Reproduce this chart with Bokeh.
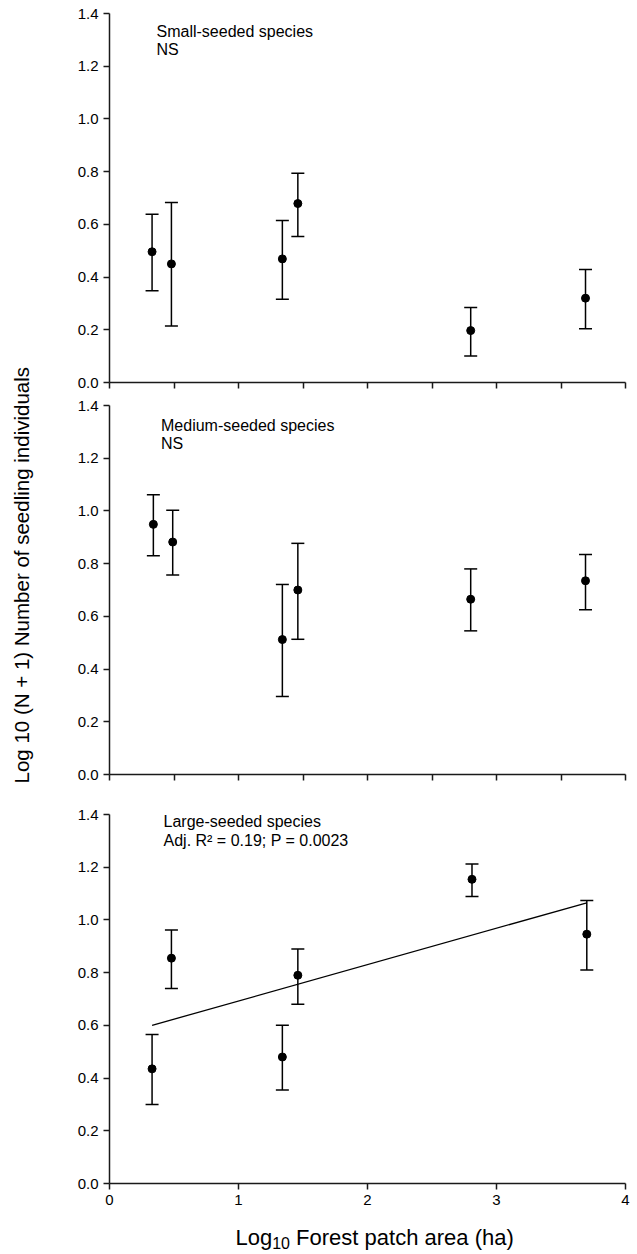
import math
from bokeh.plotting import figure
from bokeh.layouts import row, column
from bokeh.models import (Range1d, FixedTicker, PrintfTickFormatter, CustomJSTickFormatter,
                          Whisker, TeeHead, ColumnDataSource)
from bokeh.core.properties import value
from bokeh.embed import file_html
from bokeh.resources import INLINE

# ---------------- data ----------------
x_small = [0.33, 0.48, 1.34, 1.46, 2.80, 3.69]
y_small = [0.496, 0.450, 0.469, 0.679, 0.197, 0.320]
up_small = [0.638, 0.683, 0.615, 0.794, 0.285, 0.429]
lo_small = [0.348, 0.214, 0.316, 0.554, 0.101, 0.204]

x_medium = [0.34, 0.49, 1.34, 1.46, 2.80, 3.69]
y_medium = [0.949, 0.882, 0.512, 0.700, 0.665, 0.735]
up_medium = [1.061, 1.003, 0.721, 0.877, 0.780, 0.835]
lo_medium = [0.830, 0.757, 0.296, 0.513, 0.545, 0.625]

x_large = [0.33, 0.48, 1.34, 1.46, 2.81, 3.70]
y_large = [0.435, 0.855, 0.480, 0.790, 1.154, 0.946]
up_large = [0.565, 0.962, 0.600, 0.890, 1.212, 1.074]
lo_large = [0.300, 0.740, 0.355, 0.680, 1.089, 0.810]

fit_x = [0.33, 3.70]
fit_y = [0.600, 1.065]

y_ticks = [0.0, 0.2, 0.4, 0.6, 0.8, 1.0, 1.2, 1.4]
x_ticks_minor_panels = [0, 0.5, 1.0, 1.5, 2.0, 2.5, 3.0, 3.5, 4.0]
x_ticks_bottom = [0, 1, 2, 3, 4]

titles = ["Small-seeded species", "Medium-seeded species", "Large-seeded species"]
subtitles = ["NS", "NS", "Adj. R\u00b2 = 0.19; P = 0.0023"]
y_title = "Log 10 (N + 1) Number of seedling individuals"
x_title_parts = ["Log", "10", "Forest patch area (ha)"]

FONT = "Liberation Sans"
PAGE_H = 1254
LAB_W = 68
PANEL_W = 569
BL = 41
FRAME_W = 516
BR = PANEL_W - BL - FRAME_W
FRAME_H = 369
FRAME_LEFT = LAB_W + BL
PX_X = FRAME_W / 4.0
PX_Y = FRAME_H / 1.4
XT_H = 43
TXT_SHIFT = 8  # text renders this much lower than the asked baseline


def make_panel(height, btop, bbot, xs, ys, ups, los, xticks, labels):
    p = figure(width=PANEL_W, height=height, x_range=Range1d(0, 4), y_range=Range1d(0, 1.4),
               output_backend="svg", toolbar_location=None,
               min_border_left=BL, min_border_right=BR, min_border_top=btop, min_border_bottom=bbot)
    p.outline_line_color = None
    p.grid.visible = False
    for ax in (p.xaxis[0], p.yaxis[0]):
        ax.axis_line_width = 1.5
        ax.axis_line_color = "#1a1a1a"
        ax.major_tick_line_width = 1.5
        ax.major_tick_line_color = "#1a1a1a"
        ax.major_tick_out = 6
        ax.major_tick_in = 0
        ax.minor_tick_line_color = None
        ax.major_label_text_font = FONT
        ax.major_label_text_font_size = "15px"
        ax.major_label_text_color = "black"
        ax.major_label_standoff = 5
    p.yaxis.ticker = FixedTicker(ticks=y_ticks)
    p.yaxis.formatter = PrintfTickFormatter(format="%.1f")
    p.xaxis.ticker = FixedTicker(ticks=xticks)
    if not labels:
        p.xaxis.formatter = CustomJSTickFormatter(code="return ''")
        p.xaxis.major_label_text_font_size = "1px"
        p.xaxis.major_label_standoff = 0

    src = ColumnDataSource(dict(x=xs, y=ys, up=ups, lo=los))
    w = Whisker(source=src, base="x", upper="up", lower="lo", dimension="height",
                line_width=1.5, line_color="black",
                upper_head=TeeHead(size=13, line_width=1.5, line_color="black"),
                lower_head=TeeHead(size=13, line_width=1.5, line_color="black"))
    p.add_layout(w)
    p.scatter("x", "y", source=src, size=8, color="black")
    return p


def add_text(p, sx, sy, frame_top_screen, txt, size="16px"):
    # screen position -> data units of the panel
    xd = (sx - FRAME_LEFT) / PX_X
    yd = 1.4 - (sy - TXT_SHIFT - frame_top_screen) / PX_Y
    p.text(x=[xd], y=[yd], text=[txt], text_font=value(FONT), text_font_size=value(size),
           text_color="black", text_align="left", text_baseline="alphabetic")


def blank_canvas(w, h, xr, yr):
    c = figure(width=w, height=h, x_range=Range1d(*xr), y_range=Range1d(*yr), title=None,
               output_backend="svg", toolbar_location=None, x_axis_type=None, y_axis_type=None,
               min_border=0, min_border_left=0, min_border_right=0, min_border_top=0, min_border_bottom=0)
    c.outline_line_color = None
    c.grid.visible = False
    return c


# Panel 1 : screen 0..395, frame 13..382
p1 = make_panel(395, 13, 13, x_small, y_small, up_small, lo_small, x_ticks_minor_panels, False)
add_text(p1, 156, 38.5, 13, titles[0])
add_text(p1, 156, 57, 13, subtitles[0])

# Panel 2 : screen 395..790, frame 405..774
p2 = make_panel(395, 10, 16, x_medium, y_medium, up_medium, lo_medium, x_ticks_minor_panels, False)
add_text(p2, 160.5, 432.5, 405, titles[1])
add_text(p2, 160.5, 451, 405, subtitles[1])

# Panel 3 : screen 790..1211, frame 814..1183
p3 = make_panel(421, 24, 28, x_large, y_large, up_large, lo_large, x_ticks_bottom, True)
p3.line(fit_x, fit_y, line_width=1.3, line_color="black")
add_text(p3, 163, 829, 814, titles[2])
add_text(p3, 163, 848, 814, subtitles[2])

# x-axis title: own canvas; its frame is aligned with the panels' frames (x in panel units)
xt = blank_canvas(PANEL_W, XT_H, (0, 4), (0, XT_H))


def sx2d(sx):
    return (sx - FRAME_LEFT) / PX_X


xt.text(x=[sx2d(235)], y=[PAGE_H - 1245 + TXT_SHIFT], text=[x_title_parts[0]], text_font=value(FONT),
        text_font_size=value("22px"), text_color="black", text_align="left", text_baseline="alphabetic")
xt.text(x=[sx2d(271.7)], y=[PAGE_H - 1250 + TXT_SHIFT], text=[x_title_parts[1]], text_font=value(FONT),
        text_font_size=value("16px"), text_color="black", text_align="left", text_baseline="alphabetic")
xt.text(x=[sx2d(289.5 + 6.1)], y=[PAGE_H - 1245 + TXT_SHIFT], text=[x_title_parts[2]], text_font=value(FONT),
        text_font_size=value("22px"), text_color="black", text_align="left", text_baseline="alphabetic")

# y-axis title: own canvas, x = screen x, y = PAGE_H - screen y
lab = blank_canvas(LAB_W, PAGE_H, (0, LAB_W), (0, PAGE_H))
lab.text(x=[31.5 - 11], y=[PAGE_H - 783], text=[y_title], angle=math.pi / 2,
         text_font=value(FONT), text_font_size=value("20.5px"), text_color="black",
         text_align="left", text_baseline="alphabetic")

layout = row(lab, column(p1, p2, p3, xt, spacing=0), spacing=0)

open("out.html", "w").write(file_html(layout, INLINE))
